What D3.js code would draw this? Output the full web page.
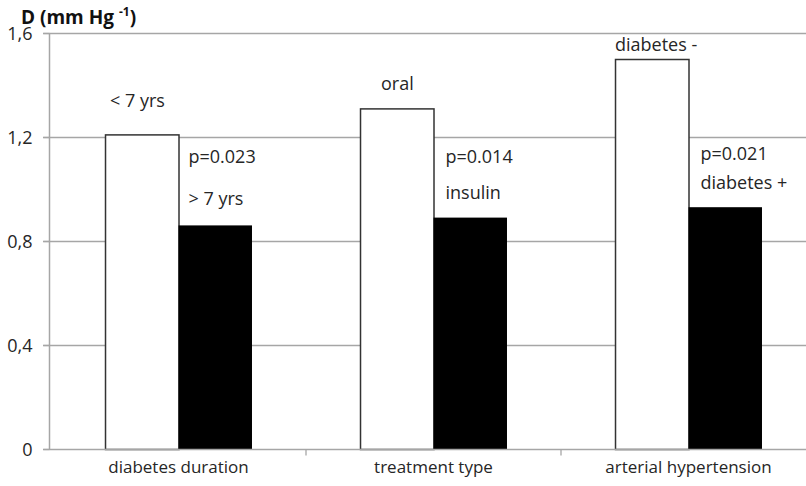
<!DOCTYPE html>
<html>
<head>
<meta charset="utf-8">
<script src="https://cdn.jsdelivr.net/npm/d3@7"></script>
<style>
  html, body { margin: 0; padding: 0; background: #fff; }
  svg { display: block; font-family: "Open Sans", sans-serif; }
</style>
</head>
<body>
<svg id="chart" width="806" height="486"></svg>
<script>
// ---- data ----
const categories = ["diabetes duration", "treatment type", "arterial hypertension"];
const seriesNames = ["reference", "comparison"];
const whiteValues = [1.21, 1.31, 1.50];
const blackValues = [0.86, 0.89, 0.93];
const whiteLabels = ["< 7 yrs", "oral", "diabetes -"];
const blackLabels = ["> 7 yrs", "insulin", "diabetes +"];
const pLabels = ["p=0.023", "p=0.014", "p=0.021"];
const yTicks = [0, 0.4, 0.8, 1.2, 1.6];
const yTickLabels = ["0", "0,4", "0,8", "1,2", "1,6"];

// ---- layout ----
const svg = d3.select("#chart");
const axisX = 49, mLeft = 51, mRight = 816, plotRight = 806, mTop = 33, mBottom = 449;

const x = d3.scaleBand().domain(categories).range([mLeft, mRight]).padding(0);
const xi = d3.scaleBand().domain(seriesNames).range([0, x.bandwidth()])
  .paddingInner(0).paddingOuter(0.735);
const y = d3.scaleLinear().domain([0, 1.6]).range([mBottom, mTop]);

const grid = "#a6a6a6";
const ink = "#262626";

// gridlines
svg.append("g").selectAll("line").data(yTicks.filter(d => d > 0)).join("line")
  .attr("x1", axisX - 6).attr("x2", plotRight)
  .attr("y1", d => y(d) + 0.5).attr("y2", d => y(d) + 0.5)
  .attr("stroke", grid).attr("stroke-width", 1.3);

// y axis
const yAxis = d3.axisLeft(y).tickValues(yTicks).tickSize(6)
  .tickFormat((d, i) => yTickLabels[i]);
const gy = svg.append("g").attr("transform", `translate(${axisX + 0.5},0)`).call(yAxis);
gy.select(".domain").attr("stroke", grid).attr("stroke-width", 1.5).attr("d", `M0,${mTop}V${mBottom}`);
gy.selectAll(".tick line").attr("stroke", grid).attr("stroke-width", 1.3);
gy.selectAll(".tick text").attr("font-family", "Open Sans, sans-serif").attr("font-size", 18)
  .attr("fill", ink).attr("x", -17).attr("dy", "0.36em");

// bars
const bars = svg.append("g");
categories.forEach((c, i) => {
  bars.append("rect")
    .attr("x", x(c) + xi("reference") + 0.5)
    .attr("y", y(whiteValues[i]) + 0.5)
    .attr("width", xi.bandwidth())
    .attr("height", y(0) - y(whiteValues[i]))
    .attr("fill", "#fff").attr("stroke", "#333").attr("stroke-width", 1.5);
  bars.append("rect")
    .attr("x", x(c) + xi("comparison"))
    .attr("y", y(blackValues[i]))
    .attr("width", xi.bandwidth())
    .attr("height", y(0) - y(blackValues[i]))
    .attr("fill", "#000");
});

// x axis
const xAxis = d3.axisBottom(x).tickSize(0);
const gx = svg.append("g").attr("transform", `translate(0,${mBottom + 0.5})`).call(xAxis);
gx.select(".domain").attr("stroke", grid).attr("stroke-width", 1.5).attr("d", `M${axisX - 6},0H${plotRight}`);
gx.selectAll(".tick text").attr("font-family", "Open Sans, sans-serif").attr("font-size", 17)
  .attr("fill", ink).attr("y", 11).attr("dy", "0.71em");
// category separators
gx.append("g").selectAll("line").data(categories.slice(1)).join("line")
  .attr("x1", d => x(d)).attr("x2", d => x(d)).attr("y1", 0).attr("y2", 6)
  .attr("stroke", grid).attr("stroke-width", 1.3);

// annotations (offsets from the bar tops they describe)
const whiteDx = [5, 21, 0], whiteDy = [-27.5, -18, -8];
const pDx = [10, 12, 12], pDy = [-62, -55, -47];
const blackDy = [-20.5, -18.5, -18];
const ann = svg.append("g").attr("font-size", 18).attr("fill", ink);
categories.forEach((c, i) => {
  const wx = x(c) + xi("reference");
  const bx = x(c) + xi("comparison");
  ann.append("text").attr("x", wx + whiteDx[i]).attr("y", y(whiteValues[i]) + whiteDy[i]).text(whiteLabels[i]);
  ann.append("text").attr("x", bx + pDx[i]).attr("y", y(blackValues[i]) + pDy[i]).text(pLabels[i]);
  ann.append("text").attr("x", bx + pDx[i]).attr("y", y(blackValues[i]) + blackDy[i]).text(blackLabels[i]);
});

// y title
const title = svg.append("text").attr("x", 21).attr("y", 24)
  .attr("font-weight", "bold").attr("font-size", 19).attr("fill", "#111");
title.append("tspan").text("D (mm Hg ");
title.append("tspan").attr("font-size", 12).attr("dy", -8).text("-1");
title.append("tspan").attr("dy", 8).text(")");
</script>
</body>
</html>
